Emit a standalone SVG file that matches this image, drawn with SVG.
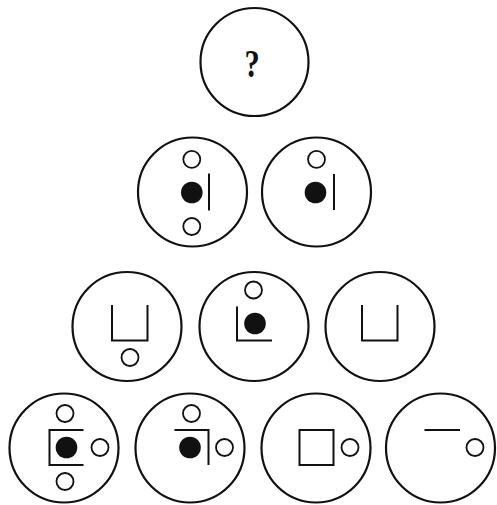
<svg xmlns="http://www.w3.org/2000/svg" width="497" height="505" viewBox="0 0 497 505">
<defs>
<style>
.big{fill:none;stroke:#111;stroke-width:2.2}
.sm{fill:none;stroke:#111;stroke-width:1.8}
.dot{fill:#111}
.ln{fill:none;stroke:#111;stroke-width:2;stroke-linecap:butt}
.q{font-family:"Liberation Serif",serif;font-weight:bold;font-size:39px;fill:#111}
</style>
</defs>
<rect width="497" height="505" fill="#fff"/>
<g id="r1c1">
<circle class="big" cx="254.5" cy="62" r="54"/>
<text class="q" transform="translate(252,76.5) scale(0.78,1)" x="0" y="0" text-anchor="middle">?</text>
</g>
<g id="r2c1">
<circle class="big" cx="192.5" cy="192" r="54.5"/>
<circle class="sm" cx="191.8" cy="159.3" r="8.5"/>
<circle class="dot" cx="191.8" cy="192.5" r="10.8"/>
<line class="ln" x1="209" y1="173.5" x2="209" y2="210.5"/>
<circle class="sm" cx="191.8" cy="226.5" r="8.5"/>
</g>
<g id="r2c2">
<circle class="big" cx="316.5" cy="192" r="54.5"/>
<circle class="sm" cx="316.5" cy="159.3" r="8.5"/>
<circle class="dot" cx="315.5" cy="192.5" r="10.8"/>
<line class="ln" x1="334" y1="174" x2="334" y2="210"/>
</g>
<g id="r3c1">
<circle class="big" cx="127" cy="326.5" r="54.5"/>
<polyline class="ln" points="112,305 112,340.5 147.5,340.5 147.5,305"/>
<circle class="sm" cx="130" cy="357.5" r="8.5"/>
</g>
<g id="r3c2">
<circle class="big" cx="254" cy="326.5" r="54.5"/>
<circle class="sm" cx="253.5" cy="290" r="8.5"/>
<polyline class="ln" points="237,306.5 237,340.5 272,340.5"/>
<circle class="dot" cx="255" cy="323.5" r="10.8"/>
</g>
<g id="r3c3">
<circle class="big" cx="380" cy="326.5" r="54.5"/>
<polyline class="ln" points="362,305 362,340.5 397.5,340.5 397.5,305"/>
</g>
<g id="r4c1">
<circle class="big" cx="64" cy="448" r="54.5"/>
<circle class="sm" cx="65" cy="413.5" r="8.5"/>
<polyline class="ln" points="83.5,430 49.5,430 49.5,465 83.5,465"/>
<circle class="dot" cx="66.5" cy="447.5" r="10.8"/>
<circle class="sm" cx="100" cy="447.5" r="8.5"/>
<circle class="sm" cx="65" cy="481.5" r="8.5"/>
</g>
<g id="r4c2">
<circle class="big" cx="190" cy="448" r="54.5"/>
<circle class="sm" cx="191.5" cy="413.5" r="8.5"/>
<polyline class="ln" points="174.5,430 208.5,430 208.5,465"/>
<circle class="dot" cx="190" cy="447.5" r="10.8"/>
<circle class="sm" cx="224.5" cy="447.5" r="8.5"/>
</g>
<g id="r4c3">
<circle class="big" cx="316" cy="448" r="54.5"/>
<rect class="ln" x="299.5" y="430" width="34" height="35"/>
<circle class="sm" cx="350" cy="447.5" r="8.5"/>
</g>
<g id="r4c4">
<circle class="big" cx="440.5" cy="448" r="54.5"/>
<line class="ln" x1="424.5" y1="430" x2="460" y2="430"/>
<circle class="sm" cx="475" cy="447.5" r="8.5"/>
</g>
<g id="connectors"/>
</svg>
